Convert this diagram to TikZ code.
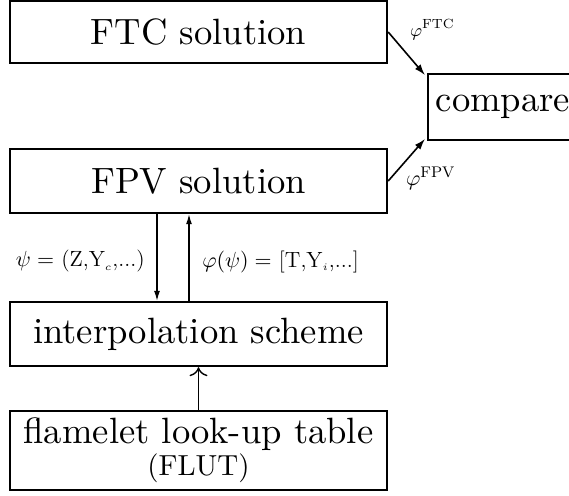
\documentclass[tikz,border=0pt]{standalone}
\usepackage{fontspec}
\newfontfamily\boxfont{lmroman10-regular.otf}
\usetikzlibrary{arrows.meta}
\tikzset{
  block/.style={draw,line width=1.2pt,minimum width=188.5pt,inner sep=3pt,align=center,
    font=\boxfont\fontsize{18.3}{21}\selectfont},
  thinarrow/.style={-{Latex[length=5pt,width=3pt]},line width=0.6pt},
  cmparrow/.style={-{Latex[length=5.5pt,width=3.6pt]},line width=0.8pt}
}
\begin{document}
\begin{tikzpicture}[x=0.5pt,y=-0.5pt]
   \useasboundingbox (0,0) rectangle (569,495);
   \node[block,minimum height=31pt] (ftc) at (198.5,32) {FTC solution};
   \node[block,minimum height=32pt] (fpv) at (198.5,181) {FPV solution};
   \node[block,minimum height=32pt] (interp) at (198.5,334) {interpolation scheme};
   \node[block,minimum height=39.5pt] (flut) at (198.5,450.5) {flamelet look-up table\\[-5pt]{\fontsize{14.5}{16}\selectfont (FLUT)}};
   \node[block,minimum width=0pt,minimum height=33pt,inner xsep=4pt,line width=0.9pt,anchor=west] (cmp) at (427,107) {compare};

   \draw[cmparrow] (ftc.east) -- ([shift={(-1pt,-1pt)}]cmp.north west)
      node[midway,above right=0pt,xshift=-2pt,yshift=3pt,font=\fontsize{9.5}{11}\selectfont] {$\varphi^{\mathrm{FTC}}$};
   \draw[cmparrow] (fpv.east) -- ([shift={(-1pt,1pt)}]cmp.south west)
      node[midway,below right=0pt,xshift=-4pt,yshift=0pt,font=\fontsize{11}{13}\selectfont] {$\varphi^{\mathrm{FPV}}$};

   \draw[thinarrow] ([xshift=-20.75pt]fpv.south) -- ([xshift=-20.75pt]interp.north)
      node[midway,left=2.5pt,yshift=-2pt,font=\fontsize{11}{13}\selectfont] {$\psi=$ (Z,Y$_{\scriptscriptstyle c}$,...)};
   \draw[thinarrow] ([xshift=-4.75pt]interp.north) -- ([xshift=-4.75pt]fpv.south)
      node[midway,right=3pt,yshift=-2pt,font=\fontsize{11}{13}\selectfont] {$\varphi(\psi)=$ [T,Y$_{\scriptscriptstyle i}$,...]};

   \draw[-{To[length=4.5pt,width=9pt]},line width=0.7pt] (flut.north) -- (interp.south);
\end{tikzpicture}
\end{document}
